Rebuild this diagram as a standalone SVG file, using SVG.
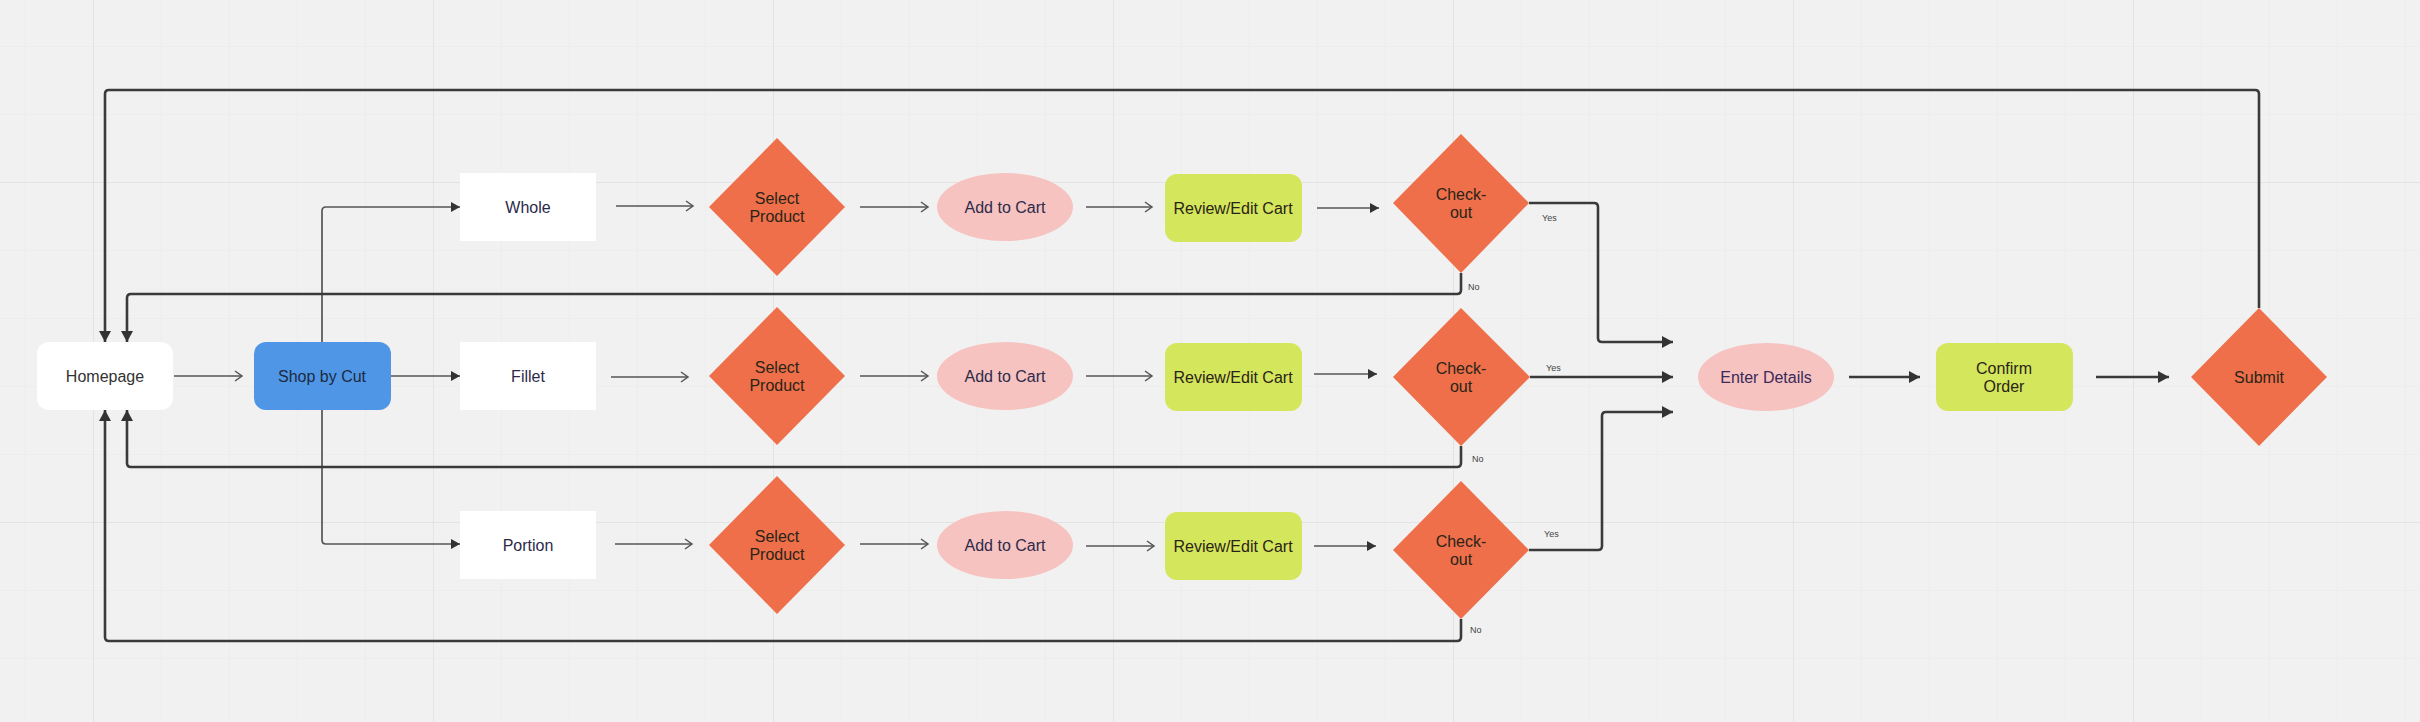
<svg xmlns="http://www.w3.org/2000/svg" width="2420" height="722" viewBox="0 0 2420 722">
<defs>
<pattern id="minor" x="25" y="46" width="68" height="68" patternUnits="userSpaceOnUse">
<path d="M0,0 V68 M0,0 H68" fill="none" stroke="#e9e9e9" stroke-width="1"/>
</pattern>
<pattern id="major" x="93" y="182" width="340" height="340" patternUnits="userSpaceOnUse">
<path d="M0,0 V340 M0,0 H340" fill="none" stroke="#e0e0e0" stroke-width="1.5"/>
</pattern>
<marker id="fill" markerUnits="userSpaceOnUse" markerWidth="12" markerHeight="12" refX="10" refY="6" orient="auto">
<path d="M1,1 L10,6 L1,11 z" fill="#333"/>
</marker>
<marker id="big" markerUnits="userSpaceOnUse" markerWidth="14" markerHeight="14" refX="12" refY="7" orient="auto">
<path d="M1,1 L12,7 L1,13 z" fill="#333"/>
</marker>
<marker id="open" markerUnits="userSpaceOnUse" markerWidth="12" markerHeight="12" refX="10" refY="6" orient="auto">
<path d="M3,1 L10,6 L3,11" fill="none" stroke="#555" stroke-width="1.5"/>
</marker>
</defs>
<style>
text{font-family:"Liberation Sans",Arial,sans-serif;font-size:16px;text-anchor:middle;dominant-baseline:central;fill:#2c2a4a}
.dark{fill:#2a2418}
.small{font-size:9px;fill:#444;text-anchor:start}
.white{fill:#ffffff}
.blue{fill:#4f97e6}
.orange{fill:#ee6f4a}
.pink{fill:#f6c3c0}
.lime{fill:#d4e65b}
.c{fill:none;stroke:#3a3a3a;stroke-width:2.6}
.t{fill:none;stroke:#555;stroke-width:1.7}
</style>
<rect width="2420" height="722" fill="#f1f1f1"/>
<rect width="2420" height="722" fill="url(#minor)"/>
<rect width="2420" height="722" fill="url(#major)"/>

<g id="connectors">
<path class="t" d="M174,376 H242" marker-end="url(#open)"/>
<path class="t" d="M322,342 V211 Q322,207 326,207 H460" marker-end="url(#fill)"/>
<path class="t" d="M391,376 H460" marker-end="url(#fill)"/>
<path class="t" d="M322,410 V540 Q322,544 326,544 H460" marker-end="url(#fill)"/>
<path class="t" d="M616,206 H693" marker-end="url(#open)"/>
<path class="t" d="M860,207 H928" marker-end="url(#open)"/>
<path class="t" d="M1086,207 H1152" marker-end="url(#open)"/>
<path class="t" d="M1317,208 H1379" marker-end="url(#fill)"/>
<path class="t" d="M611,377 H688" marker-end="url(#open)"/>
<path class="t" d="M860,376 H928" marker-end="url(#open)"/>
<path class="t" d="M1086,376 H1152" marker-end="url(#open)"/>
<path class="t" d="M1314,374 H1377" marker-end="url(#fill)"/>
<path class="t" d="M615,544 H692" marker-end="url(#open)"/>
<path class="t" d="M860,544 H928" marker-end="url(#open)"/>
<path class="t" d="M1086,546 H1154" marker-end="url(#open)"/>
<path class="t" d="M1314,546 H1376" marker-end="url(#fill)"/>
<path class="c" d="M1529,203 H1594 Q1598,203 1598,207 V338 Q1598,342 1602,342 H1673" marker-end="url(#big)"/>
<path class="c" d="M1530,377 H1673" marker-end="url(#big)"/>
<path class="c" d="M1529,550 H1598 Q1602,550 1602,546 V416 Q1602,412 1606,412 H1673" marker-end="url(#big)"/>
<path class="c" d="M1461,273 V290 Q1461,294 1457,294 H131 Q127,294 127,298 V342" marker-end="url(#big)"/>
<path class="c" d="M1461,446 V463 Q1461,467 1457,467 H131 Q127,467 127,463 V410" marker-end="url(#big)"/>
<path class="c" d="M1461,619 V637 Q1461,641 1457,641 H109 Q105,641 105,637 V410" marker-end="url(#big)"/>
<path class="c" d="M2259,308 V94 Q2259,90 2255,90 H109 Q105,90 105,94 V342" marker-end="url(#big)"/>
<path class="c" d="M1849,377 H1920" marker-end="url(#big)"/>
<path class="c" d="M2096,377 H2169" marker-end="url(#big)"/>
<text class="small" x="1542" y="218">Yes</text>
<text class="small" x="1468" y="287">No</text>
<text class="small" x="1546" y="368">Yes</text>
<text class="small" x="1472" y="459">No</text>
<text class="small" x="1544" y="534">Yes</text>
<text class="small" x="1470" y="630">No</text>
</g>

<g id="homepage"><rect class="white" x="37" y="342" width="136" height="68" rx="12"/><text x="105" y="376" style="fill:#333">Homepage</text></g>
<g id="shop-by-cut"><rect class="blue" x="254" y="342" width="137" height="68" rx="12"/><text x="322" y="376" style="fill:#1d2a40">Shop by Cut</text></g>

<g id="whole"><rect class="white" x="460" y="173" width="136" height="68"/><text x="528" y="207">Whole</text></g>
<g id="fillet"><rect class="white" x="460" y="342" width="136" height="68"/><text x="528" y="376">Fillet</text></g>
<g id="portion"><rect class="white" x="460" y="511" width="136" height="68"/><text x="528" y="545">Portion</text></g>

<g id="select-1"><polygon class="orange" points="777,138 845,207 777,276 709,207"/><text class="dark" x="777" y="198">Select</text><text class="dark" x="777" y="216">Product</text></g>
<g id="select-2"><polygon class="orange" points="777,307 845,376 777,445 709,376"/><text class="dark" x="777" y="367">Select</text><text class="dark" x="777" y="385">Product</text></g>
<g id="select-3"><polygon class="orange" points="777,476 845,545 777,614 709,545"/><text class="dark" x="777" y="536">Select</text><text class="dark" x="777" y="554">Product</text></g>

<g id="add-1"><ellipse class="pink" cx="1005" cy="207" rx="68" ry="34"/><text x="1005" y="207">Add to Cart</text></g>
<g id="add-2"><ellipse class="pink" cx="1005" cy="376" rx="68" ry="34"/><text x="1005" y="376">Add to Cart</text></g>
<g id="add-3"><ellipse class="pink" cx="1005" cy="545" rx="68" ry="34"/><text x="1005" y="545">Add to Cart</text></g>

<g id="review-1"><rect class="lime" x="1165" y="174" width="137" height="68" rx="12"/><text class="dark" x="1233" y="208">Review/Edit Cart</text></g>
<g id="review-2"><rect class="lime" x="1165" y="343" width="137" height="68" rx="12"/><text class="dark" x="1233" y="377">Review/Edit Cart</text></g>
<g id="review-3"><rect class="lime" x="1165" y="512" width="137" height="68" rx="12"/><text class="dark" x="1233" y="546">Review/Edit Cart</text></g>

<g id="checkout-1"><polygon class="orange" points="1461,134 1529,203 1461,273 1393,203"/><text class="dark" x="1461" y="194">Check-</text><text class="dark" x="1461" y="212">out</text></g>
<g id="checkout-2"><polygon class="orange" points="1461,308 1530,377 1461,446 1393,377"/><text class="dark" x="1461" y="368">Check-</text><text class="dark" x="1461" y="386">out</text></g>
<g id="checkout-3"><polygon class="orange" points="1461,481 1529,550 1461,619 1393,550"/><text class="dark" x="1461" y="541">Check-</text><text class="dark" x="1461" y="559">out</text></g>

<g id="enter-details"><ellipse class="pink" cx="1766" cy="377" rx="68" ry="34"/><text x="1766" y="377" style="fill:#3a2a5a">Enter Details</text></g>
<g id="confirm-order"><rect class="lime" x="1936" y="343" width="137" height="68" rx="12"/><text class="dark" x="2004" y="368">Confirm</text><text class="dark" x="2004" y="386">Order</text></g>
<g id="submit"><polygon class="orange" points="2259,308 2327,377 2259,446 2191,377"/><text class="dark" x="2259" y="377">Submit</text></g>
</svg>
